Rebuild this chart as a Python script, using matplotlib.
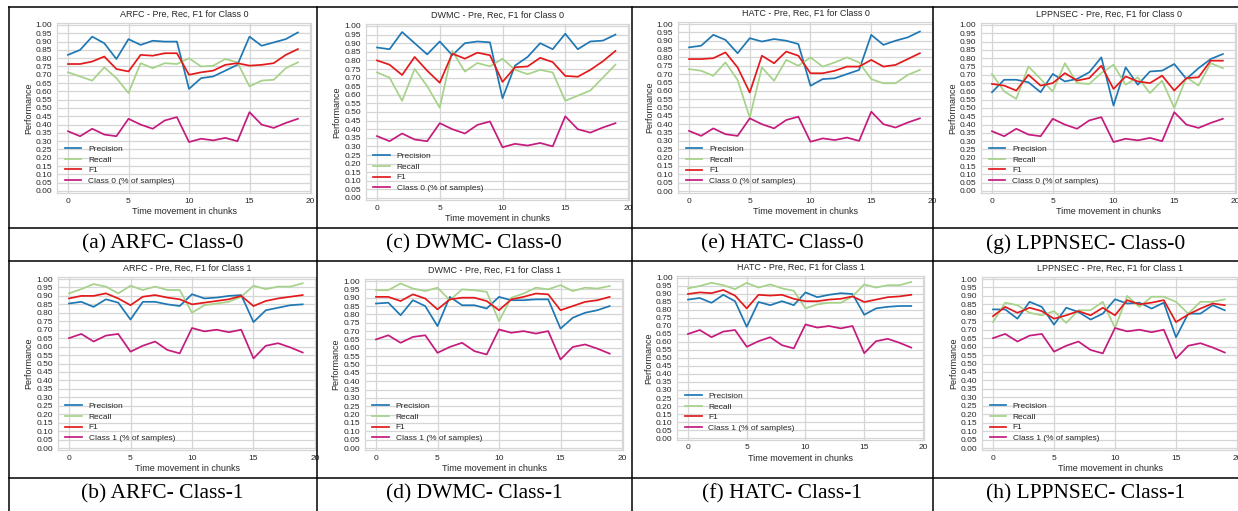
import matplotlib
matplotlib.use('Agg')
import matplotlib.pyplot as plt
from matplotlib.lines import Line2D
import numpy as np

plt.rcParams['font.family'] = ['Liberation Sans', 'DejaVu Sans']
plt.rcParams['text.color'] = '0.15'
plt.rcParams['axes.labelcolor'] = '0.15'
plt.rcParams['xtick.color'] = '0.15'
plt.rcParams['ytick.color'] = '0.15'

W, H = 1238, 511

chunks = np.arange(20)

# share of samples per chunk
class0_share = [0.36, 0.33, 0.375, 0.34, 0.33, 0.435, 0.40, 0.375, 0.425, 0.445,
                0.295, 0.315, 0.305, 0.32, 0.30, 0.475, 0.40, 0.38, 0.41, 0.435]
class1_share = [0.65, 0.675, 0.63, 0.665, 0.675, 0.57, 0.605, 0.63, 0.58, 0.56,
                0.71, 0.69, 0.70, 0.685, 0.70, 0.53, 0.605, 0.62, 0.595, 0.565]

# ARFC
arfc0_pre = [0.82, 0.85, 0.93, 0.89, 0.795, 0.915, 0.88, 0.905, 0.90, 0.90,
             0.615, 0.68, 0.69, 0.725, 0.76, 0.93, 0.875, 0.895, 0.915, 0.955]
arfc0_rec = [0.715, 0.69, 0.665, 0.745, 0.68, 0.59, 0.77, 0.74, 0.77, 0.765,
             0.80, 0.75, 0.755, 0.795, 0.775, 0.63, 0.665, 0.67, 0.74, 0.775]
arfc0_f1 = [0.765, 0.765, 0.78, 0.81, 0.735, 0.72, 0.82, 0.815, 0.83, 0.83,
            0.70, 0.715, 0.725, 0.76, 0.77, 0.755, 0.76, 0.77, 0.82, 0.855]
arfc1_pre = [0.855, 0.865, 0.835, 0.88, 0.86, 0.76, 0.865, 0.865, 0.85, 0.84,
             0.91, 0.885, 0.89, 0.90, 0.905, 0.745, 0.815, 0.83, 0.845, 0.85]
arfc1_rec = [0.915, 0.94, 0.97, 0.955, 0.915, 0.96, 0.935, 0.955, 0.935, 0.935,
             0.80, 0.845, 0.855, 0.865, 0.895, 0.96, 0.94, 0.955, 0.955, 0.975]
arfc1_f1 = [0.885, 0.90, 0.90, 0.915, 0.885, 0.845, 0.895, 0.905, 0.89, 0.88,
            0.85, 0.86, 0.87, 0.88, 0.90, 0.84, 0.87, 0.885, 0.895, 0.905]

# DWMC
dwmc0_pre = [0.875, 0.865, 0.965, 0.90, 0.835, 0.91, 0.83, 0.90, 0.91, 0.905,
             0.58, 0.77, 0.82, 0.90, 0.865, 0.955, 0.865, 0.91, 0.915, 0.95]
dwmc0_rec = [0.73, 0.70, 0.565, 0.75, 0.65, 0.525, 0.855, 0.735, 0.785, 0.765,
             0.81, 0.745, 0.72, 0.745, 0.73, 0.565, 0.595, 0.625, 0.70, 0.775]
dwmc0_f1 = [0.80, 0.775, 0.715, 0.82, 0.74, 0.67, 0.84, 0.81, 0.845, 0.83,
            0.675, 0.76, 0.765, 0.815, 0.79, 0.71, 0.705, 0.745, 0.795, 0.855]
dwmc1_pre = [0.865, 0.87, 0.795, 0.885, 0.85, 0.73, 0.905, 0.855, 0.855, 0.835,
             0.905, 0.885, 0.885, 0.89, 0.89, 0.715, 0.78, 0.81, 0.825, 0.85]
dwmc1_rec = [0.945, 0.945, 0.985, 0.955, 0.94, 0.96, 0.885, 0.95, 0.945, 0.935,
             0.76, 0.90, 0.925, 0.96, 0.95, 0.975, 0.94, 0.96, 0.955, 0.97]
dwmc1_f1 = [0.905, 0.905, 0.88, 0.92, 0.895, 0.83, 0.89, 0.90, 0.90, 0.88,
            0.825, 0.89, 0.905, 0.925, 0.92, 0.825, 0.85, 0.875, 0.885, 0.905]

# HATC
hatc0_pre = [0.86, 0.87, 0.935, 0.905, 0.825, 0.915, 0.895, 0.91, 0.90, 0.88,
             0.63, 0.67, 0.675, 0.70, 0.725, 0.935, 0.875, 0.90, 0.92, 0.955]
hatc0_rec = [0.73, 0.72, 0.69, 0.77, 0.665, 0.44, 0.74, 0.66, 0.785, 0.75,
             0.80, 0.745, 0.77, 0.80, 0.77, 0.67, 0.645, 0.645, 0.695, 0.725]
hatc0_f1 = [0.79, 0.79, 0.795, 0.83, 0.74, 0.59, 0.81, 0.765, 0.835, 0.81,
            0.705, 0.705, 0.72, 0.745, 0.745, 0.785, 0.745, 0.755, 0.79, 0.825]
hatc1_pre = [0.865, 0.875, 0.845, 0.895, 0.855, 0.695, 0.85, 0.83, 0.855, 0.83,
             0.91, 0.88, 0.895, 0.905, 0.90, 0.77, 0.81, 0.82, 0.825, 0.825]
hatc1_rec = [0.935, 0.95, 0.97, 0.955, 0.93, 0.97, 0.94, 0.96, 0.935, 0.92,
             0.81, 0.835, 0.845, 0.845, 0.885, 0.96, 0.94, 0.955, 0.955, 0.975]
hatc1_f1 = [0.90, 0.91, 0.905, 0.925, 0.89, 0.81, 0.895, 0.89, 0.895, 0.87,
            0.855, 0.855, 0.865, 0.87, 0.885, 0.85, 0.865, 0.88, 0.885, 0.895]

# LPPNSEC
lpp0_pre = [0.595, 0.67, 0.67, 0.655, 0.595, 0.705, 0.66, 0.675, 0.715, 0.805,
            0.515, 0.745, 0.64, 0.72, 0.725, 0.765, 0.675, 0.74, 0.795, 0.825]
lpp0_rec = [0.705, 0.60, 0.555, 0.75, 0.675, 0.60, 0.77, 0.65, 0.645, 0.71,
            0.76, 0.64, 0.685, 0.59, 0.665, 0.50, 0.685, 0.635, 0.77, 0.74]
lpp0_f1 = [0.645, 0.635, 0.605, 0.70, 0.635, 0.65, 0.71, 0.665, 0.68, 0.755,
           0.615, 0.69, 0.66, 0.65, 0.695, 0.605, 0.68, 0.685, 0.785, 0.785]
lpp1_pre = [0.82, 0.82, 0.765, 0.865, 0.835, 0.73, 0.83, 0.805, 0.76, 0.795,
            0.88, 0.855, 0.86, 0.825, 0.86, 0.655, 0.795, 0.795, 0.845, 0.815]
lpp1_rec = [0.745, 0.86, 0.845, 0.80, 0.785, 0.81, 0.74, 0.815, 0.815, 0.865,
            0.71, 0.90, 0.835, 0.895, 0.895, 0.865, 0.795, 0.865, 0.865, 0.88]
lpp1_f1 = [0.78, 0.835, 0.80, 0.83, 0.81, 0.765, 0.785, 0.81, 0.785, 0.83,
           0.785, 0.875, 0.85, 0.86, 0.875, 0.745, 0.79, 0.825, 0.855, 0.845]

COLORS = {'pre': '#1f78b4', 'rec': '#a6d28a', 'f1': '#e31a1c', 'share': '#c51b7d'}

# pixel anchors per panel: (x=0, x=20, y=1.0, y=0.0)
panels = [
    ('ARFC', 0, '(a)', (68, 310, 25, 191), arfc0_pre, arfc0_rec, arfc0_f1),
    ('DWMC', 0, '(c)', (377, 628, 26, 198), dwmc0_pre, dwmc0_rec, dwmc0_f1),
    ('HATC', 0, '(e)', (689, 932, 24, 191), hatc0_pre, hatc0_rec, hatc0_f1),
    ('LPPNSEC', 0, '(g)', (992, 1235, 25, 191), lpp0_pre, lpp0_rec, lpp0_f1),
    ('ARFC', 1, '(b)', (69, 315, 279, 448), arfc1_pre, arfc1_rec, arfc1_f1),
    ('DWMC', 1, '(d)', (376, 622, 281, 448), dwmc1_pre, dwmc1_rec, dwmc1_f1),
    ('HATC', 1, '(f)', (688, 923, 278, 438), hatc1_pre, hatc1_rec, hatc1_f1),
    ('LPPNSEC', 1, '(h)', (993, 1237, 279, 448), lpp1_pre, lpp1_rec, lpp1_f1),
]

XMIN, XMAX = -0.9, 20.1
YMIN, YMAX = -0.01, 1.01

fig = plt.figure(figsize=(W / 100, H / 100), dpi=100)
fig.patch.set_facecolor('white')

for name, cls, tag, (px0, px20, py1, py0), pre, rec, f1 in panels:
    ux = (px20 - px0) / 20.0
    uy = py0 - py1
    left = px0 + XMIN * ux
    right = px0 + XMAX * ux
    top = py0 - YMAX * uy
    bottom = py0 - YMIN * uy
    ax = fig.add_axes([left / W, 1 - bottom / H, (right - left) / W, (bottom - top) / H])
    ax.set_facecolor('white')
    share = class0_share if cls == 0 else class1_share
    ax.plot(chunks, pre, color=COLORS['pre'], lw=1.25, label='Precision')
    ax.plot(chunks, rec, color=COLORS['rec'], lw=1.25, label='Recall')
    ax.plot(chunks, f1, color=COLORS['f1'], lw=1.25, label='F1')
    ax.plot(chunks, share, color=COLORS['share'], lw=1.25,
            label=f'Class {cls} (% of samples)')
    ax.set_xlim(XMIN, XMAX)
    ax.set_ylim(YMIN, YMAX)
    ax.set_xticks([0, 5, 10, 15, 20])
    ax.set_yticks(np.arange(0, 1.001, 0.05))
    ax.set_yticklabels([f'{v:.2f}' for v in np.arange(0, 1.001, 0.05)])
    ax.tick_params(length=0, labelsize=6, pad=3.5)
    ax.grid(True, color='#d6d6d6', lw=0.9)
    ax.set_axisbelow(True)
    for sp in ax.spines.values():
        sp.set_color('#d6d6d6')
        sp.set_linewidth(0.9)
    ax.set_title(f'{name} - Pre, Rec, F1 for Class {cls}', fontsize=6.5, pad=5)
    ax.set_xlabel('Time movement in chunks', fontsize=6.5, labelpad=2)
    ax.set_ylabel('Performance', fontsize=6.5, labelpad=2)
    ax.legend(loc='lower left', frameon=False, fontsize=6, handlelength=2.0,
              labelspacing=0.35)

# table lines around the sub-figures
vlines = [9, 316.5, 632, 933]
hlines = [7, 228, 260.5, 477.5]
for xv in vlines:
    fig.add_artist(Line2D([xv / W, xv / W], [1 - 7 / H, 0], color='black', lw=1.1))
for yh in hlines:
    fig.add_artist(Line2D([9 / W, 1.0], [1 - yh / H, 1 - yh / H], color='black', lw=1.1))

# captions
cell_centers = [162.5, 474, 782.5, 1085.5]
caption_rows = [244, 494]
for i, (name, cls, tag, *_rest) in enumerate(panels):
    col = i % 4
    fig.text(cell_centers[col] / W, 1 - caption_rows[cls] / H,
             f'{tag} {name}- Class-{cls}', ha='center', va='center',
             fontsize=15.5, family='Liberation Serif', color='black')

fig.savefig('out.png', dpi=100, facecolor='white')
